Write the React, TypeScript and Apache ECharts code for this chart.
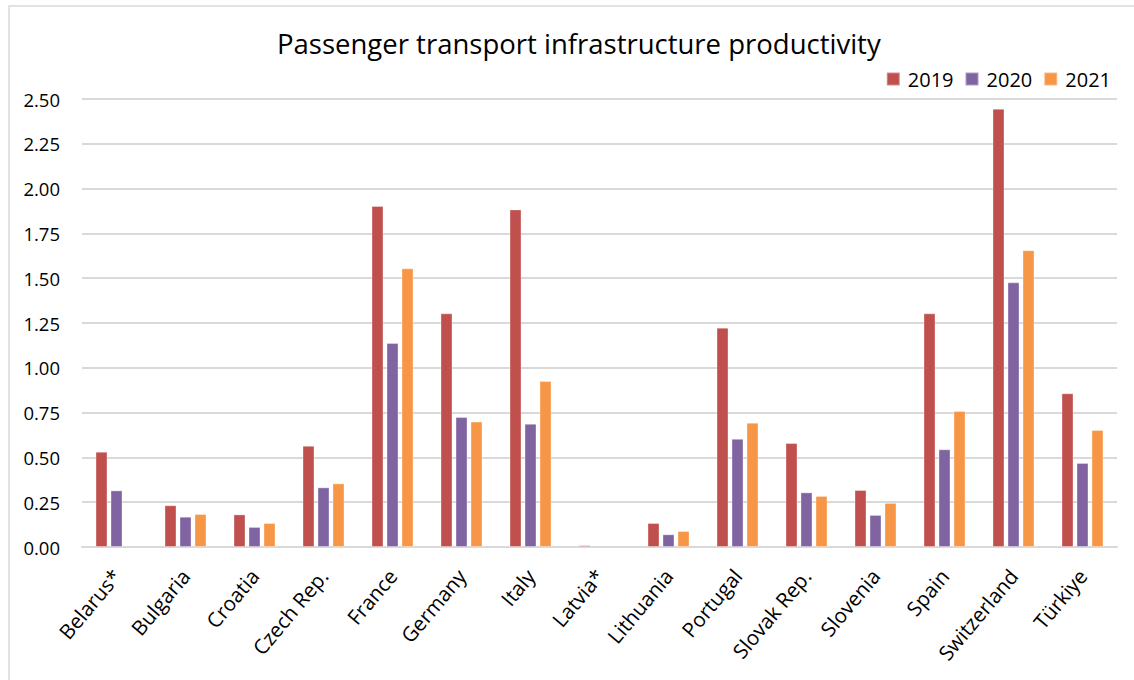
import React, { useEffect, useRef } from "react";
import * as echarts from "echarts";

const categories = [
  "Belarus*", "Bulgaria", "Croatia", "Czech Rep.", "France", "Germany", "Italy", "Latvia*",
  "Lithuania", "Portugal", "Slovak Rep.", "Slovenia", "Spain", "Switzerland", "Türkiye",
];

const values2019 = [0.532, 0.233, 0.182, 0.565, 1.903, 1.304, 1.884, 0.01, 0.134, 1.224, 0.58, 0.318, 1.304, 2.446, 0.858];
const values2020 = [0.316, 0.169, 0.112, 0.333, 1.138, 0.725, 0.688, null, 0.071, 0.604, 0.305, 0.179, 0.545, 1.477, 0.469];
const values2021 = [null, 0.184, 0.134, 0.355, 1.555, 0.70, 0.926, null, 0.089, 0.694, 0.285, 0.246, 0.759, 1.656, 0.653];

const seriesNames = ["2019", "2020", "2021"];
const seriesColors = ["#C0504D", "#8064A2", "#F79646"];

const FONT = "'Open Sans', 'Noto Sans', sans-serif";

export default function App() {
  const ref = useRef<HTMLDivElement>(null);

  useEffect(() => {
    if (!ref.current) return;
    const chart = echarts.init(ref.current, undefined, { renderer: "svg" });
    const seriesData = [values2019, values2020, values2021];
    chart.setOption({
      animation: false,
      backgroundColor: "#FFFFFF",
      textStyle: { fontFamily: FONT },
      title: {
        text: "Passenger transport infrastructure productivity",
        left: 272,
        top: 24,
        textStyle: { fontFamily: FONT, fontSize: 27.5, fontWeight: "normal", color: "#000000" },
      },
      legend: {
        right: 18,
        top: 64,
        itemWidth: 13,
        itemHeight: 13,
        itemGap: 11,
        icon: "rect",
        textStyle: { fontFamily: FONT, fontSize: 20, color: "#000000", padding: [0, 0, 0, 3] },
        data: seriesNames,
      },
      graphic: [
        {
          type: "rect",
          shape: { x: 9, y: 6, width: 1300, height: 900 },
          style: { fill: "none", stroke: "#D9D9D9", lineWidth: 1.5 },
          silent: true,
        },
      ],
      grid: { left: 82, right: 17, top: 99, bottom: 133, containLabel: false },
      xAxis: {
        type: "category",
        data: categories,
        axisLine: { show: true, lineStyle: { color: "#D9D9D9", width: 2 } },
        axisTick: { show: false },
        axisLabel: {
          rotate: 50,
          interval: 0,
          margin: 25,
          fontFamily: FONT,
          fontSize: 20.5,
          color: "#000000",
        },
      },
      yAxis: {
        type: "value",
        min: 0,
        max: 2.5,
        interval: 0.25,
        axisLine: { show: false },
        axisTick: { show: false },
        splitLine: { show: true, lineStyle: { color: "#D9D9D9", width: 2 } },
        axisLabel: {
          margin: 22,
          fontFamily: FONT,
          fontSize: 18.5,
          color: "#000000",
          formatter: (v: number) => v.toFixed(2),
        },
      },
      series: seriesNames.map((name, i) => ({
        name,
        type: "bar",
        data: seriesData[i],
        barWidth: 12,
        barGap: "25%",
        itemStyle: { color: seriesColors[i], borderColor: "rgba(255,255,255,0.35)", borderWidth: 1 },
      })),
    });
    return () => chart.dispose();
  }, []);

  return (
    <div
      ref={ref}
      style={{ position: "fixed", left: 0, top: 0, width: 1134, height: 680 }}
    />
  );
}
